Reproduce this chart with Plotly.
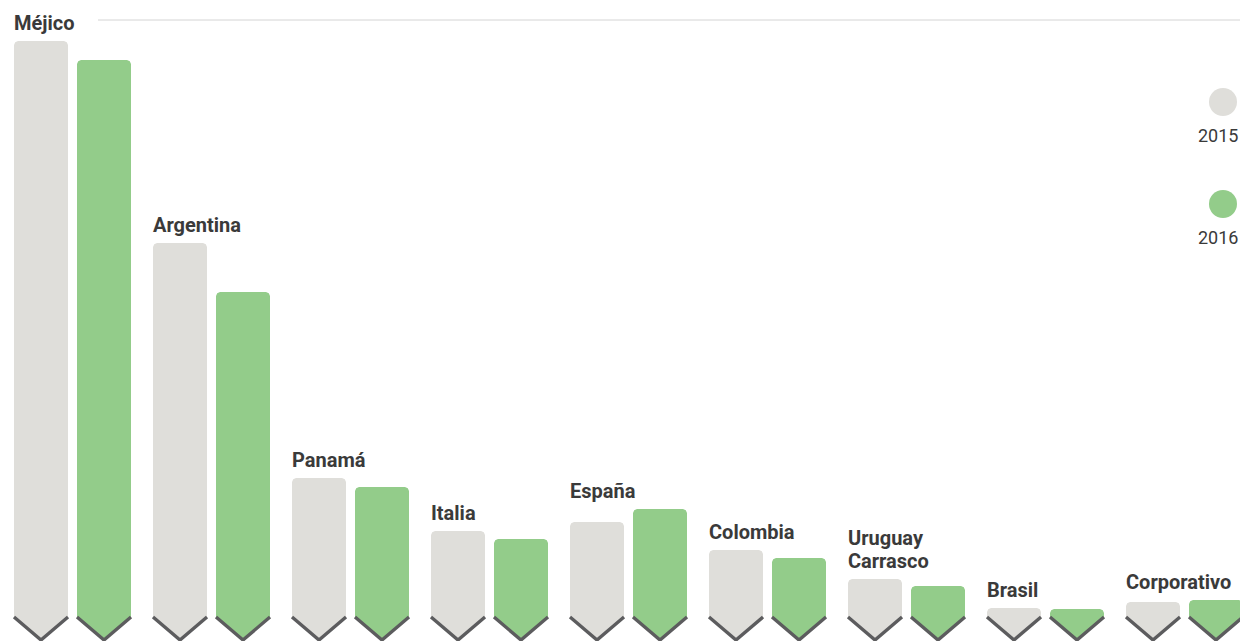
import plotly.graph_objects as go

# Paired bars per site, 2015 vs 2016
sites = ["Méjico", "Argentina", "Panamá", "Italia", "España", "Colombia",
         "Uruguay<br>Carrasco", "Brasil", "Corporativo"]
values_2015 = [600, 398, 163, 110, 119, 91, 62, 33, 39]
values_2016 = [581, 349, 154, 102, 132, 83, 55, 32, 41]
years = ["2015", "2016"]

GREY = "#dfdeda"
GREEN = "#93cc8a"
EDGE = "#5c5c5e"
TEXT = "#3a3a3a"
FONT = "Roboto, Arial, sans-serif"

W, H = 1240, 641
PITCH = 139.0            # pixels per site group
BAR_W = 54 / PITCH       # bar width in x units
OFFSET_2016 = 63 / PITCH
TIP = 1.0                # y of the chevron tip
SHOULDER = 24.0          # y where the chevron meets the bar sides
RX, RY = 4 / PITCH, 4.0  # corner rounding
LINE_H = 23              # label line spacing in pixels

fig = go.Figure()


def bar_outline(x0, x1, top):
    xs, ys = [x0], [SHOULDER]
    # left side up, rounded top-left
    xs += [x0, x0 + RX * 0.3, x0 + RX]
    ys += [top - RY, top - RY * 0.3, top]
    # top edge, rounded top-right
    xs += [x1 - RX, x1 - RX * 0.3, x1]
    ys += [top, top - RY * 0.3, top - RY]
    # right side down to shoulder, then chevron point
    xs += [x1, (x0 + x1) / 2, x0]
    ys += [SHOULDER, TIP, SHOULDER]
    return xs, ys


for i, site in enumerate(sites):
    for j, (vals, color) in enumerate(((values_2015, GREY), (values_2016, GREEN))):
        x0 = i + j * OFFSET_2016
        x1 = x0 + BAR_W
        xs, ys = bar_outline(x0, x1, vals[i])
        fig.add_trace(go.Scatter(
            x=xs, y=ys, mode="lines", fill="toself", fillcolor=color,
            line=dict(width=0, color=color), hoverinfo="skip", showlegend=False))
        fig.add_trace(go.Scatter(
            x=[x0, (x0 + x1) / 2, x1], y=[SHOULDER, TIP, SHOULDER],
            mode="lines", line=dict(color=EDGE, width=3.4),
            hoverinfo="skip", showlegend=False))
    # site name above the taller bar, one annotation per line
    lines = site.split("<br>")
    for n, line in enumerate(reversed(lines)):
        fig.add_annotation(
            x=i, y=max(values_2015[i], values_2016[i]), xref="x", yref="y",
            text=f"<b>{line}</b>", showarrow=False, xanchor="left", yanchor="bottom",
            align="left", yshift=4 + n * LINE_H, xshift=-2,
            font=dict(family=FONT, size=20, color=TEXT))

# Top reference line
fig.add_shape(type="line", xref="paper", yref="y", x0=98 / W, x1=1.0,
              y0=621, y1=621, line=dict(color="#d4d4d4", width=1))

# Legend: dots with year labels underneath
for k, (yr, color) in enumerate(zip(years, (GREY, GREEN))):
    cy = H - 102 - k * 102
    fig.add_shape(type="circle", xref="paper", yref="y",
                  x0=1209 / W, x1=1237 / W, y0=cy - 14, y1=cy + 14,
                  fillcolor=color, line=dict(width=0))
    fig.add_annotation(x=1240 / W, xref="paper", y=cy - 33, yref="y",
                       text=yr, showarrow=False, xanchor="right", yanchor="middle",
                       font=dict(family=FONT, size=18, color=TEXT))

fig.update_xaxes(range=[-14 / PITCH, (W - 14) / PITCH], visible=False, fixedrange=True)
fig.update_yaxes(range=[0, H], visible=False, fixedrange=True)
fig.update_layout(
    width=W, height=H, margin=dict(l=0, r=0, t=0, b=0),
    paper_bgcolor="white", plot_bgcolor="white", showlegend=False)

fig.write_html("out.html", config={"displayModeBar": False})
